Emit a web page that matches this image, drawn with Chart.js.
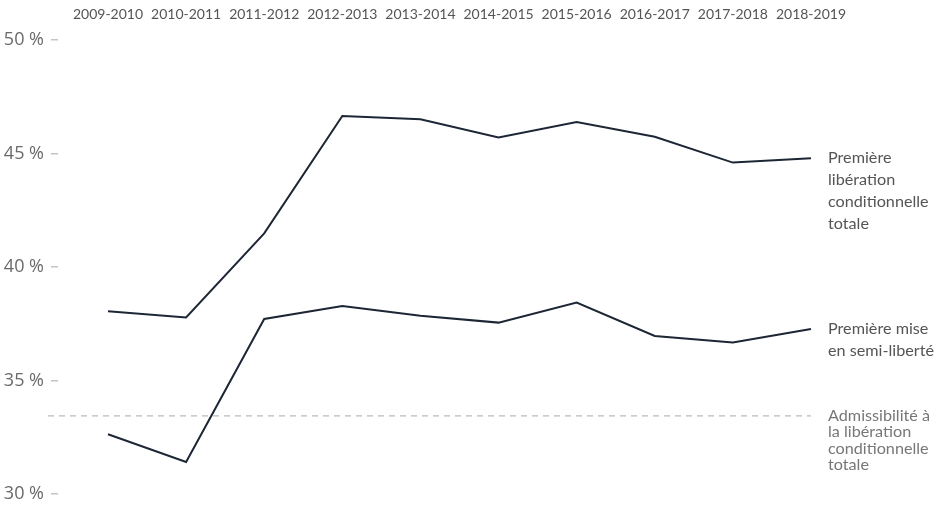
<!DOCTYPE html>
<html>
<head>
<meta charset="utf-8">
<script src="https://cdn.jsdelivr.net/npm/chart.js@4"></script>
<style>
  html, body { margin: 0; padding: 0; background: #fff; }
  #wrap { width: 943px; height: 517px; position: relative; }
</style>
</head>
<body>
<div id="wrap"><canvas id="chart"></canvas></div>
<script>
// annees et taux (%)
var annees = ["2009-2010", "2010-2011", "2011-2012", "2012-2013", "2013-2014",
              "2014-2015", "2015-2016", "2016-2017", "2017-2018", "2018-2019"];
var liberationTotale = [38.05, 37.78, 41.48, 46.65, 46.51, 45.71, 46.39, 45.74, 44.60, 44.79];
var semiLiberte = [32.63, 31.41, 37.71, 38.28, 37.85, 37.55, 38.43, 36.96, 36.67, 37.27];
var admissibilite = 33.44;
var yTicks = [30, 35, 40, 45, 50];

var labelLiberation = ["Première", "libération", "conditionnelle", "totale"];
var labelSemi = ["Première mise", "en semi-liberté"];
var labelAdmis = ["Admissibilité à", "la libération", "conditionnelle", "totale"];

var X_MIN = -0.64, X_MAX = 9.154;
var LINE = "#1d2635";

function pts(arr) {
  return arr.map(function (v, i) { return { x: i, y: v }; });
}

// texte a droite de chaque serie, aligne sur le dernier point
var endLabels = {
  id: "endLabels",
  afterDatasetsDraw: function (chart) {
    var ctx = chart.ctx;
    chart.data.datasets.forEach(function (ds, i) {
      var meta = chart.getDatasetMeta(i);
      var last = meta.data[meta.data.length - 1];
      ctx.save();
      ctx.font = "16.2px Lato";
      ctx.fillStyle = ds.labelColor;
      ctx.textBaseline = "middle";
      ds.endText.forEach(function (t, j) {
        ctx.fillText(t, last.x + 17, last.y + j * ds.lineGap);
      });
      ctx.restore();
    });
  }
};

var ctx = document.getElementById("chart").getContext("2d");
new Chart(ctx, {
  type: "line",
  data: {
    datasets: [{
      data: pts(liberationTotale),
      borderColor: LINE,
      borderWidth: 2,
      pointRadius: 0,
      tension: 0,
      endText: labelLiberation,
      lineGap: 21.7,
      labelColor: "#555"
    }, {
      data: pts(semiLiberte),
      borderColor: LINE,
      borderWidth: 2,
      pointRadius: 0,
      tension: 0,
      endText: labelSemi,
      lineGap: 21.5,
      labelColor: "#555"
    }, {
      data: [{ x: X_MIN - 0.128, y: admissibilite }, { x: annees.length - 1, y: admissibilite }],
      borderColor: "#aaa",
      borderWidth: 1,
      borderDash: [6, 5],
      pointRadius: 0,
      clip: false,
      endText: labelAdmis,
      lineGap: 16.3,
      labelColor: "#777"
    }]
  },
  options: {
    animation: false,
    responsive: true,
    maintainAspectRatio: false,
    layout: { padding: { top: 0, left: 0, right: 120, bottom: 23 } },
    plugins: { legend: { display: false }, tooltip: { enabled: false } },
    scales: {
      x: {
        type: "linear",
        position: "top",
        min: X_MIN,
        max: X_MAX,
        afterBuildTicks: function (s) {
          s.ticks = annees.map(function (a, i) { return { value: i }; });
        },
        afterFit: function (s) { s.height = 40; },
        grid: { display: false, drawTicks: false },
        border: { display: false },
        ticks: {
          autoSkip: false,
          maxRotation: 0,
          padding: 17,
          color: "#555",
          font: { family: "Lato", size: 14 },
          callback: function (v) { return annees[v]; }
        }
      },
      y: {
        min: 30,
        max: 50,
        afterBuildTicks: function (s) {
          s.ticks = yTicks.map(function (v) { return { value: v }; });
        },
        afterFit: function (s) { s.width = 58; },
        grid: { drawOnChartArea: false, drawTicks: true, tickLength: 7, color: "#c4c4c4", lineWidth: 1.5 },
        border: { display: false },
        ticks: {
          padding: 7,
          color: "#6a6a6a",
          font: { family: "Open Sans", size: 18 },
          callback: function (v) { return v + " %"; }
        }
      }
    }
  },
  plugins: [endLabels]
});
</script>
</body>
</html>
